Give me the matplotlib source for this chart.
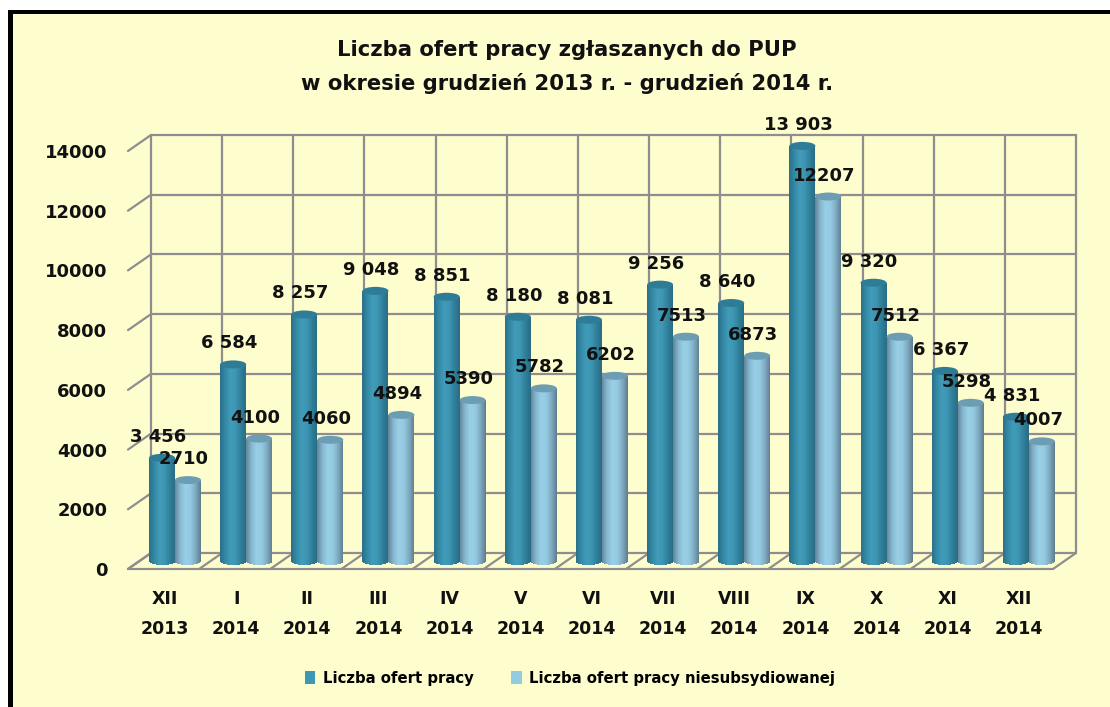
import numpy as np
import matplotlib
matplotlib.use('Agg')
import matplotlib.pyplot as plt
from matplotlib.colors import LinearSegmentedColormap
from matplotlib.patches import Ellipse, Patch, Rectangle

months = ['XII', 'I', 'II', 'III', 'IV', 'V', 'VI', 'VII', 'VIII', 'IX', 'X', 'XI', 'XII']
years = ['2013'] + ['2014'] * 12
offers = [3456, 6584, 8257, 9048, 8851, 8180, 8081, 9256, 8640, 13903, 9320, 6367, 4831]
unsubsidised = [2710, 4100, 4060, 4894, 5390, 5782, 6202, 7513, 6873, 12207, 7512, 5298, 4007]
y_ticks = [0, 2000, 4000, 6000, 8000, 10000, 12000, 14000]

title = 'Liczba ofert pracy zgłaszanych do PUP\nw okresie grudzień 2013 r. - grudzień 2014 r.'
series_names = ['Liczba ofert pracy', 'Liczba ofert pracy niesubsydiowanej']

W, H = 1110, 707
BG = '#FEFDCD'
GRID = '#8E8E8E'
FONT = 'DejaVu Sans'

# front plane of the fake 3D box, in pixels
LEFT, RIGHT, BOTTOM, TOP = 128, 1053, 569, 151
px_x = 13 / (RIGHT - LEFT)
px_y = 14000 / (BOTTOM - TOP)
DEPTH_X = 23 * px_x
DEPTH_Y = 16 * px_y

BAR_W = 26 * px_x
BASE = 8 * px_y
ELL_H = 8 * px_y

dark = LinearSegmentedColormap.from_list('dark', ['#2B6F88', '#348AA6', '#409BB9', '#3D95B2', '#2F7F9A', '#2A6C84'])
light = LinearSegmentedColormap.from_list('light', ['#64879C', '#86B8D0', '#98CFE6', '#94CAE1', '#7FABC2', '#60808F'])

fig = plt.figure(figsize=(W / 100, H / 100), dpi=100, facecolor='white')
fig.add_artist(Rectangle((8 / W, 0), (W - 8) / W, (H - 10) / H, transform=fig.transFigure, fc='black', ec='none', zorder=-2))
fig.add_artist(Rectangle((13 / W, 0), (W - 13) / W, (H - 14) / H, transform=fig.transFigure, fc=BG, ec='none', zorder=-1))

ax = fig.add_axes([LEFT / W, (H - BOTTOM) / H, (RIGHT - LEFT) / W, (BOTTOM - TOP) / H])
ax.patch.set_visible(False)
for s in ax.spines.values():
    s.set_visible(False)


def grid_line(xs, ys, lw=1.6):
    ax.plot(xs, ys, color=GRID, lw=lw, clip_on=False, zorder=1, solid_capstyle='round')


# walls and floor
for v in y_ticks:
    grid_line([DEPTH_X, 13 + DEPTH_X], [v + DEPTH_Y, v + DEPTH_Y])
    grid_line([0, DEPTH_X], [v, v + DEPTH_Y])
for i in range(14):
    grid_line([i + DEPTH_X, i + DEPTH_X], [DEPTH_Y, 14000 + DEPTH_Y])
    grid_line([i, i + DEPTH_X], [0, DEPTH_Y])
grid_line([0, 13], [0, 0])


def cylinder(cx, value, cmap, top_color):
    # horizontal shading as a one-row mesh, bottom edge bent into the ellipse
    xs = np.linspace(cx - BAR_W / 2, cx + BAR_W / 2, 53)
    curve = BASE - ELL_H / 2 * np.sqrt(np.clip(1 - ((xs - cx) / (BAR_W / 2)) ** 2, 0, 1))
    X = np.vstack([xs, xs])
    Y = np.vstack([curve, np.full_like(xs, value + BASE)])
    ax.pcolormesh(X, Y, np.linspace(0, 1, 52).reshape(1, -1), cmap=cmap, shading='flat', zorder=3, clip_on=False)
    ax.add_patch(Ellipse((cx, value + BASE), BAR_W, ELL_H, fc=top_color, ec='none', zorder=4, clip_on=False))


def bar_label(cx, value, text):
    ax.annotate(text, (cx, value + BASE), xytext=(-4, 21), textcoords='offset pixels', ha='center',
                va='center', fontsize=13, fontweight='bold', family=FONT, color='#111111',
                zorder=6, annotation_clip=False)


for i in range(13):
    cx_d = i + 0.478
    cx_l = i + 0.843
    cylinder(cx_d, offers[i], dark, '#2F7C96')
    cylinder(cx_l, unsubsidised[i], light, '#6D9DB3')
for i in range(13):
    bar_label(i + 0.478, offers[i], f'{offers[i]:,}'.replace(',', ' '))
    bar_label(i + 0.843, unsubsidised[i], str(unsubsidised[i]))

ax.set_xlim(0, 13)
ax.set_ylim(0, 14000)
ax.set_xticks(np.arange(13) + 0.52)
ax.set_xticklabels([f'{m}\n{y}' for m, y in zip(months, years)], fontsize=12.5, fontweight='bold',
                   family=FONT, color='#111111', linespacing=1.85)
ax.set_yticks(y_ticks)
ax.set_yticklabels([str(v) for v in y_ticks], fontsize=13, fontweight='bold', family=FONT, color='#111111')
ax.tick_params(axis='x', length=0, pad=15)
ax.tick_params(axis='y', length=0, pad=15)

fig.text(567 / W, 1 - 67 / H, title, ha='center', va='center', fontsize=15.25, fontweight='bold',
         family=FONT, color='#111111', linespacing=1.8)

fig.legend(handles=[Patch(fc='#3E97B3', ec='none'), Patch(fc='#93CBE2', ec='none')], labels=series_names,
           ncol=2, loc='center', bbox_to_anchor=(570 / W, 1 - 678 / H), frameon=False, handlelength=0.7,
           handleheight=0.9, handletextpad=0.5, columnspacing=2.55, prop={'family': FONT, 'weight': 'bold', 'size': 10.7})

fig.savefig('out.png', dpi=100, facecolor=fig.get_facecolor())
